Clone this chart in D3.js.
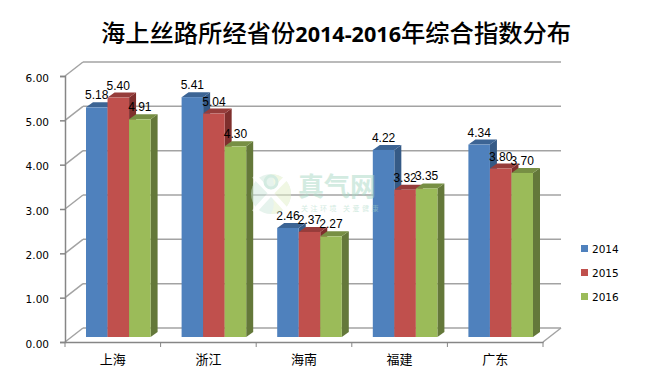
<!DOCTYPE html>
<html>
<head>
<meta charset="utf-8">
<style>
  html, body { margin: 0; padding: 0; background: #fff; }
  svg { display: block; }
</style>
<script src="https://cdn.jsdelivr.net/npm/d3@7"></script>
</head>
<body>
<div id="chart"></div>
<script>
const categories = ['上海', '浙江', '海南', '福建', '广东'];
const years = ['2014', '2015', '2016'];
const values2014 = [5.18, 5.41, 2.46, 4.22, 4.34];
const values2015 = [5.40, 5.04, 2.37, 3.32, 3.80];
const values2016 = [4.91, 4.30, 2.27, 3.35, 3.70];
const yTicks = [0, 1, 2, 3, 4, 5, 6];

const seriesValues = [values2014, values2015, values2016];
const FRONT = ['#4f81bd', '#c0504d', '#9bbb59'];
const TOP = ['#3c6494', '#963d3b', '#778f44'];
const SIDE = ['#355a86', '#7f2f2d', '#64783a'];

const width = 645;
const height = 387;
const latin = '"DejaVu Sans", sans-serif';
const cjk = '"Noto Sans CJK SC", sans-serif';

// floor/back wall offset of the fake 3d box, bar depth inside it
const wall = { dx: 18, dy: -14 };
const bar = { dx: 7, dy: -5, shift: 6 };

const svg = d3.select('#chart').append('svg')
  .attr('width', width)
  .attr('height', height);

const x0 = d3.scaleBand().domain(categories).range([65, 543]);
const x1 = d3.scaleBand().domain(years)
  .range([15, x0.bandwidth() - 16]);
const y = d3.scaleLinear().domain([0, 6]).range([342, 76]);

// title
const title = svg.append('text')
  .attr('x', 336)
  .attr('y', 42)
  .attr('text-anchor', 'middle')
  .attr('fill', '#000')
  .style('font-family', cjk)
  .style('font-weight', '500')
  .style('font-size', '24.3px');
title.append('tspan').text('海上丝路所经省份');
title.append('tspan')
  .style('font-family', '"Open Sans", sans-serif')
  .style('font-weight', '700')
  .style('font-size', '21.6px')
  .text('2014-2016');
title.append('tspan').text('年综合指数分布');

// back wall gridlines and the slanted lines on the side wall
const grid = svg.append('g')
  .attr('fill', 'none')
  .attr('stroke', '#a3a3a3')
  .attr('stroke-width', 1.5);

grid.selectAll('line.back')
  .data(yTicks)
  .enter()
  .append('line')
  .attr('class', 'back')
  .attr('x1', 65 + wall.dx)
  .attr('x2', 543 + wall.dx)
  .attr('y1', (d) => y(d) + wall.dy)
  .attr('y2', (d) => y(d) + wall.dy);

grid.selectAll('line.slant')
  .data(yTicks)
  .enter()
  .append('line')
  .attr('class', 'slant')
  .attr('x1', 65)
  .attr('x2', 65 + wall.dx)
  .attr('y1', (d) => y(d))
  .attr('y2', (d) => y(d) + wall.dy);

grid.append('line')
  .attr('x1', 543)
  .attr('x2', 543 + wall.dx)
  .attr('y1', y(0))
  .attr('y2', y(0) + wall.dy);

// bars
const groups = svg.append('g')
  .selectAll('g')
  .data(categories)
  .enter()
  .append('g')
  .attr('transform', (d) => `translate(${x0(d) + bar.shift},${bar.dy})`);

groups.each(function (cat, c) {
  const g = d3.select(this);
  years.forEach((year, s) => {
    const v = seriesValues[s][c];
    const left = x1(year);
    const right = left + x1.bandwidth();
    const top = y(v);
    const base = y(0);

    g.append('polygon')
      .attr('points', [[right, base], [right + bar.dx, base + bar.dy],
        [right + bar.dx, top + bar.dy], [right, top]].join(' '))
      .attr('fill', SIDE[s]);
    g.append('polygon')
      .attr('points', [[left, top], [left + bar.dx, top + bar.dy],
        [right + bar.dx, top + bar.dy], [right, top]].join(' '))
      .attr('fill', TOP[s]);
    g.append('rect')
      .attr('x', left)
      .attr('y', top)
      .attr('width', x1.bandwidth())
      .attr('height', base - top)
      .attr('fill', FRONT[s]);
  });
});

// watermark is stamped over the chart
const mark = svg.append('g').attr('opacity', 0.5);
mark.append('circle')
  .attr('cx', 271)
  .attr('cy', 194)
  .attr('r', 20)
  .attr('fill', '#cfe8dc');
mark.append('path')
  .attr('d', 'M271,194 A20,20 0 0 1 271,214 A20,20 0 0 0 291,194 A20,20 0 0 0 271,174 A20,20 0 0 1 271,194 Z')
  .attr('fill', '#e3f0c8');
mark.append('path')
  .attr('d', 'M254,176 C264,186 278,200 288,212 M288,176 C278,186 264,200 254,212')
  .attr('fill', 'none')
  .attr('stroke', '#fff')
  .attr('stroke-width', 5);
mark.append('circle')
  .attr('cx', 271)
  .attr('cy', 182)
  .attr('r', 6)
  .attr('fill', 'none')
  .attr('stroke', '#a8d8c4')
  .attr('stroke-width', 3);
mark.append('text')
  .attr('x', 298)
  .attr('y', 196)
  .attr('fill', '#a8d8c4')
  .style('font-family', cjk)
  .style('font-weight', '700')
  .style('font-size', '26px')
  .text('真气网');
mark.append('text')
  .attr('x', 301)
  .attr('y', 210.5)
  .attr('fill', '#a8d8c4')
  .style('font-family', cjk)
  .style('font-size', '7px')
  .style('letter-spacing', '2.5px')
  .text('关注环境 关爱健康');

// data labels go over every bar
groups.each(function (cat, c) {
  const g = d3.select(this);
  years.forEach((year, s) => {
    const v = seriesValues[s][c];
    g.append('text')
      .attr('x', x1(year) + x1.bandwidth() / 2)
      .attr('y', y(v) - 8)
      .attr('text-anchor', 'middle')
      .attr('fill', '#000')
      .style('font-family', '"Liberation Sans", sans-serif')
      .style('font-size', '12px')
      .text(d3.format('.2f')(v));
  });
});

// axes
const yAxis = svg.append('g')
  .attr('transform', 'translate(65,0)')
  .call(d3.axisLeft(y).tickValues(yTicks).tickFormat(d3.format('.2f')).tickSize(5).tickPadding(11));

const xAxis = svg.append('g')
  .attr('transform', `translate(0,${y(0)})`)
  .call(d3.axisBottom(x0).tickSize(0).tickPadding(13));

[yAxis, xAxis].forEach((axis) => {
  axis.selectAll('path, line')
    .attr('stroke', '#868686')
    .attr('stroke-width', 1.5);
});
yAxis.selectAll('text')
  .attr('fill', '#000')
  .attr('dy', '0.5em')
  .style('font-family', latin)
  .style('font-size', '10.5px');
xAxis.selectAll('text')
  .attr('fill', '#000')
  .style('font-family', cjk)
  .style('font-size', '13px');

// category separators, band scale ticks would land on the centres
xAxis.selectAll('line.sep')
  .data(categories.concat(null))
  .enter()
  .append('line')
  .attr('class', 'sep')
  .attr('x1', (d) => (d ? x0(d) : 543))
  .attr('x2', (d) => (d ? x0(d) : 543))
  .attr('y1', 0)
  .attr('y2', 5)
  .attr('stroke', '#868686')
  .attr('stroke-width', 1);

// legend
const legend = svg.append('g').attr('transform', 'translate(581,245)');
years.forEach((year, i) => {
  const row = legend.append('g').attr('transform', `translate(0,${i * 24})`);
  row.append('rect')
    .attr('width', 7)
    .attr('height', 7)
    .attr('fill', FRONT[i]);
  row.append('text')
    .attr('x', 11)
    .attr('y', 7.5)
    .attr('fill', '#000')
    .style('font-family', latin)
    .style('font-size', '10.5px')
    .text(year);
});
</script>
</body>
</html>
